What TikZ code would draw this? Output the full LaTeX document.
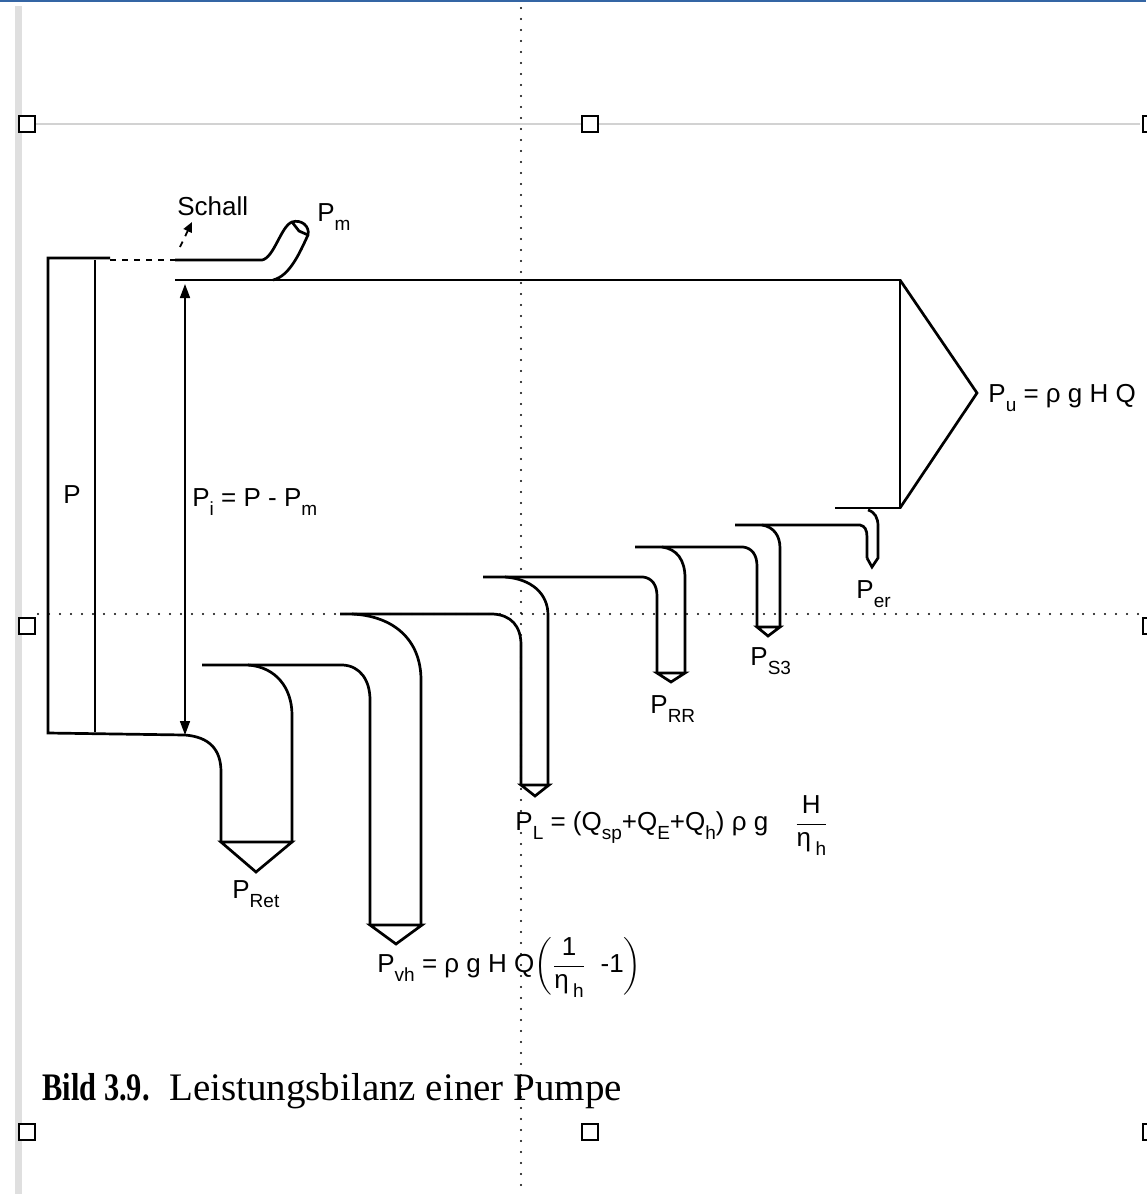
\documentclass[tikz,border=0pt]{standalone}
\usepackage{amsmath}
\usepackage{fontspec}
\setmainfont{Liberation Sans}
\newfontfamily\capfont{Liberation Serif}
\usetikzlibrary{arrows.meta}
\definecolor{frameblue}{RGB}{52,101,164}
\newcommand{\lowsub}[1]{\raisebox{-0.36em}{\fontsize{9.5}{10}\selectfont #1}}

\begin{document}
\begin{tikzpicture}[x=0.5pt,y=-0.5pt,font=\fontsize{13}{15}\selectfont,
  every node/.style={inner sep=0pt},
  guide/.style={line width=1.2pt,line cap=round,dash pattern=on 0pt off 5.5pt},
  handle/.style={draw,line width=0.9pt,fill=white},
  flow/.style={line width=1.35pt}]
  \useasboundingbox (0,0) rectangle (1146,1194);
  \fill[gray!25] (15,6) rectangle (22,1194);
  \fill[frameblue] (0,0) rectangle (1146,2);
  \draw[gray!35,line width=1pt] (36,124) -- (1140,124);
  \draw[guide] (521,8) -- (521,1194);
  \draw[guide] (38,614) -- (1146,614);
  \foreach \hx/\hy in {27/124,590/124,1151/124,27/626,1151/626,27/1132,590/1132,1151/1132}
    \draw[handle] (\hx-8,\hy-8) rectangle (\hx+8,\hy+8);
  \draw[flow] (110,258) -- (48,258) -- (48,733) -- (185,735) .. controls (210,737) and (221,750) .. (221,772) -- (221,842);
  \draw[flow] (95,260) -- (95,732);
  \draw[flow,dashed] (110,260) -- (175,260);
  \draw[flow] (175,260) -- (262,260) .. controls (274,258) and (281,226) .. (292,222) .. controls (301,219) and (310,226) .. (308,235) .. controls (300,252) and (290,276) .. (273,280);
  \draw[flow] (292,222) -- (299,231) -- (308,235);
  \draw[flow] (175,280) -- (900,280) -- (900,508) -- (835,508);
  \draw[flow] (900,280) -- (977,393) -- (900,508);
  \draw[flow] (221,842) -- (292,842) -- (256,872) -- cycle;
  \draw[flow] (202,665) -- (343,665) .. controls (360,666) and (370,680) .. (370,700) -- (370,925);
  \draw[flow] (248,665) .. controls (276,667) and (292,688) .. (292,715) -- (292,842);
  \draw[flow] (370,925) -- (422,925) -- (396,944) -- cycle;
  \draw[flow] (352,614) .. controls (394,616) and (421,640) .. (421,680) -- (421,925);
  \draw[flow] (340,614) -- (493,614) .. controls (511,615) and (521,626) .. (521,645) -- (521,785);
  \draw[flow] (521,785) -- (549,785) -- (535,796) -- cycle;
  \draw[flow] (505,577) .. controls (532,579) and (548,594) .. (548,615) -- (548,785);
  \draw[flow] (483,577) -- (643,577) .. controls (652,578) and (657,585) .. (657,596) -- (657,673);
  \draw[flow] (657,673) -- (685,673) -- (671,682) -- cycle;
  \draw[flow] (662,547) .. controls (677,549) and (685,560) .. (685,578) -- (685,673);
  \draw[flow] (635,547) -- (743,547) .. controls (752,548) and (757,555) .. (757,566) -- (757,627);
  \draw[flow] (757,627) -- (780,627) -- (768,636) -- cycle;
  \draw[flow] (762,525) .. controls (774,527) and (780,536) .. (780,548) -- (780,627);
  \draw[flow] (735,525) -- (860,525) .. controls (865,526) and (867,530) .. (867,537) -- (867,558);
  \draw[flow] (868,510) .. controls (875,512) and (878,518) .. (878,526) -- (878,558) -- (872,567) -- (867,558);
  \draw[line width=0.8pt,{Triangle[length=7pt,width=5pt]}-{Triangle[length=7pt,width=5pt]}] (185,284) -- (185,735);
  \draw[line width=0.9pt,dashed,-{Triangle[length=5pt,width=4.5pt]}] (180,247) -- (192,222);
  \node[anchor=base west] (schall) at (177,215) {Schall};
  \node[anchor=base west] (pm) at (317,221) {P\lowsub{m}};
  \node[anchor=base west] (p) at (63,503) {P};
  \node[anchor=base west] (pi) at (192,506) {P\lowsub{i} = P - P\lowsub{m}};
  \node[anchor=base west] (pu) at (988,402) {P\lowsub{u} = ρ g H Q};
  \node[anchor=base west] (per) at (856,598) {P\lowsub{er}};
  \node[anchor=base west] (ps3) at (750,665) {P\lowsub{S3}};
  \node[anchor=base west] (prr) at (650,713) {P\lowsub{RR}};
  \node[anchor=base west] (pl) at (515,830) {P\lowsub{L} = (Q\lowsub{sp}+Q\lowsub{E}+Q\lowsub{h}) ρ g\quad $\dfrac{\text{H}}{\text{η\,\lowsub{h}}}$};
  \node[anchor=base west] (pret) at (232,898) {P\lowsub{Ret}};
  \node[anchor=base west] (pvh) at (377,972) {P\lowsub{vh} = ρ g H Q$\left(\dfrac{\text{1}}{\text{η\,\lowsub{h}}}\ \ \text{-1}\right)$};
  \node[anchor=base west,font=\capfont\fontsize{19.5}{21}\selectfont] (caption) at (42,1100) {\scalebox{0.78}[1]{\textbf{Bild 3.9.}}\ \ Leistungsbilanz einer Pumpe};
\end{tikzpicture}
\end{document}
